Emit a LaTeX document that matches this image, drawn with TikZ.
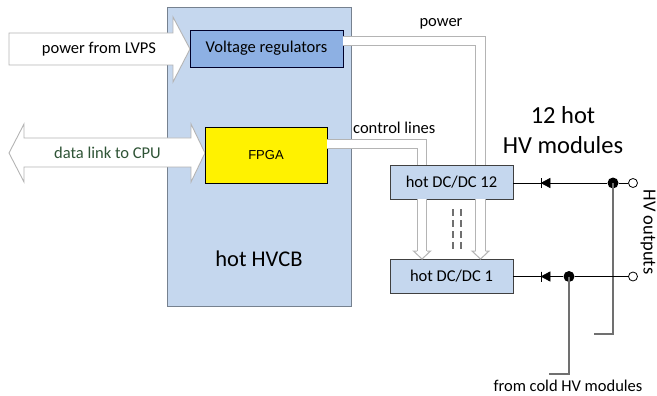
\documentclass[tikz,border=0pt]{standalone}
\usepackage{fontspec}
\setmainfont{Carlito}
\newfontfamily\arialfont{Liberation Sans}
\usetikzlibrary{calc}
\definecolor{panelblue}{HTML}{C5D7EE}
\definecolor{regblue}{HTML}{8DB0E3}
\definecolor{pipegray}{HTML}{B4B4B4}
\definecolor{wiregray}{HTML}{707070}
\definecolor{linkgreen}{HTML}{2F5436}
\tikzset{
  x=1pt,y=-1pt,
  blockbox/.style={draw=#1,line width=0.9pt,inner sep=0pt,font=\fontsize{16.5}{18}\selectfont,text=black},
  dcbox/.style={blockbox=black!75,fill=panelblue,minimum width=123pt,minimum height=34pt},
  bigarrow/.style={draw=pipegray,fill=white,line width=0.9pt,line join=miter},
  pipeline/.style={draw=pipegray,line width=1pt,double=white,double distance=8.4pt,line join=miter},
  pipehead/.style={draw=pipegray,fill=white,line width=1pt},
  label/.style={inner sep=0pt,font=\fontsize{16.5}{18}\selectfont},
  biglabel/.style={inner sep=0pt,font=\fontsize{24.5}{28}\selectfont},
  wire/.style={draw=black,line width=1pt},
  tapwire/.style={draw=wiregray,line width=1.5pt},
  dot/.style={circle,fill=black,inner sep=0pt,minimum size=11pt},
  terminal/.style={circle,draw=black,fill=white,line width=0.8pt,inner sep=0pt,minimum size=9pt},
  diode/.style={fill=black,draw=black,line width=0.8pt}
}
\begin{document}
\begin{tikzpicture}
\useasboundingbox (0,0) rectangle (657,396);
% main panel
\node[draw=black!40!panelblue,line width=1pt,fill=panelblue,minimum width=184pt,minimum height=298pt,inner sep=0pt] (hvcb) at (259,157) {};
% big arrows
\draw[bigarrow] (9,33) -- (173,33) -- (173,17) -- (190,49) -- (173,82) -- (173,65) -- (9,65) -- cycle;
\draw[bigarrow] (9,153) -- (24,124) -- (24,138) -- (191,138) -- (191,124) -- (205,153) -- (191,182) -- (191,167) -- (24,167) -- (24,182) -- cycle;
% blocks
\node[blockbox=black!60!blue!40!black,fill=regblue,minimum width=153pt,minimum height=37pt] (vr) at (266.5,48.5) {Voltage regulators};
\node[blockbox=black,fill=yellow,minimum width=122pt,minimum height=56pt,font=\arialfont\fontsize{13}{15}\selectfont] (fpga) at (266,155) {FPGA};
\node[dcbox] (dc12) at (451.5,182) {hot DC/DC 12};
\node[dcbox] (dc1) at (451.5,276.5) {hot DC/DC 1};
% pipes
\coordinate (pwrtop) at (480.5,41);
\coordinate (ctltop) at (422,144);
\draw[pipeline] (vr.east |- pwrtop) -- (pwrtop) -- (pwrtop |- dc12.north);
\draw[pipeline] (fpga.east |- ctltop) -- (ctltop) -- (ctltop |- dc12.north);
\draw[pipeline] (ctltop |- dc12.south) -- (ctltop |- 0,253);
\draw[pipeline] (pwrtop |- dc12.south) -- (pwrtop |- 0,253);
\draw[pipehead] (ctltop |- dc1.north) ++(-5,-8) -- ++(-3.5,0) -- (ctltop |- dc1.north) -- ++(8.5,-8) -- ++(-3.5,0);
\draw[pipehead] (pwrtop |- dc1.north) ++(-5,-8) -- ++(-3.5,0) -- (pwrtop |- dc1.north) -- ++(8.5,-8) -- ++(-3.5,0);
% dashes
\coordinate (dasha) at (453,209);
\coordinate (dashb) at (461,209);
\draw[wiregray,line width=1.2pt,dash pattern=on 7pt off 4pt] (dasha) -- ++(0,43);
\draw[wiregray,line width=1.2pt,dash pattern=on 7pt off 4pt] (dashb) -- ++(0,43);
% outputs
\node[terminal] (out12) at (633,183) {};
\node[terminal] (out1) at (633,276.5) {};
\node[dot] (j12) at (613,183) {};
\node[dot] (j1) at (569,276.5) {};
\coordinate (tap12) at (594,334);
\coordinate (tap1) at (549,374);
\draw[tapwire] (j12.center) |- (tap12);
\draw[tapwire] (j1.center) |- (tap1);
\draw[wire] (dc12.east |- out12) -- (j12) -- (out12);
\draw[wire] (dc1.east |- out1) -- (j1) -- (out1);
\coordinate (d12) at (541.5,183);
\coordinate (d1) at (541.5,276.5);
\foreach \d in {d12,d1}{
  \fill[diode] (\d) -- ++(8.5,-4.5) -- ++(0,9) -- cycle;
  \draw[diode] ($(\d)+(0,-5)$) -- ($(\d)+(0,5)$);
}
% labels
\node[label] (t1) at (99,49.5) {power from LVPS};
\node[label,text=linkgreen] (t2) at (107.5,153) {data link to CPU};
\node[label] (t3) at (441,24) {power};
\node[label,anchor=west] (t4) at (353,128) {control lines};
\node[biglabel] (t5) at (563,115) {12 hot};
\node[biglabel] (t6) at (563,145) {HV modules};
\node[biglabel,font=\fontsize{22.5}{26}\selectfont] (t7) at (259,259) {hot HVCB};
\node[label] (t8) at (568,386) {from cold HV modules};
\node[label,rotate=-90,font=\fontsize{18.5}{20}\selectfont] (t9) at (648,232) {HV outputs};
\end{tikzpicture}
\end{document}
